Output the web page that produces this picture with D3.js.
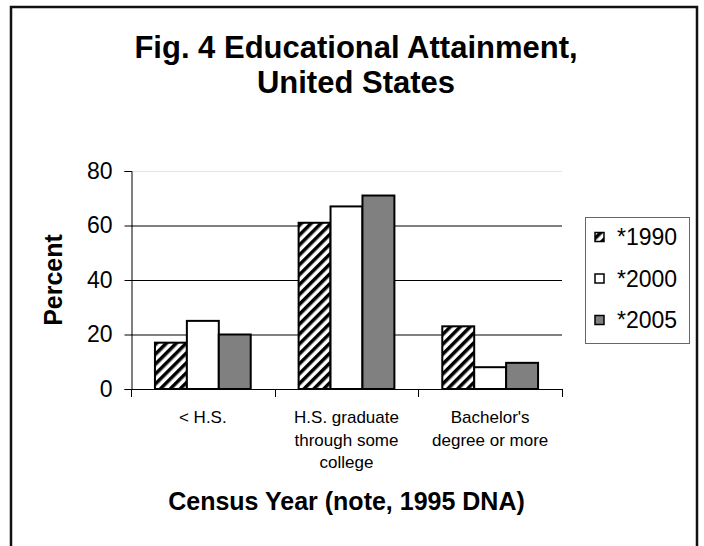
<!DOCTYPE html>
<html>
<head>
<meta charset="utf-8">
<script src="https://cdn.jsdelivr.net/npm/d3@7"></script>
<style>
  body { margin: 0; background: #fff; }
  svg { display: block; font-family: "Liberation Sans", Arial, sans-serif; }
</style>
</head>
<body>
<svg id="chart" width="704" height="546"></svg>
<script>
// data
var categories = [["< H.S."], ["H.S. graduate", "through some", "college"], ["Bachelor's", "degree or more"]];
var catKeys = ["lt_hs", "hs_some_college", "bachelors"];
var years = ["*1990", "*2000", "*2005"];
var values1990 = [17, 61, 23];
var values2000 = [25, 67, 8];
var values2005 = [20, 71, 9.6];
var yTicks = [0, 20, 40, 60, 80];

var series = [values1990, values2000, values2005];
var fills = ["url(#hatch)", "#ffffff", "#808080"];

// plot box
var plot = { left: 131, right: 562, top: 171, bottom: 389 };

var svg = d3.select("#chart");

// hatch pattern for 1990
var defs = svg.append("defs");
var pat = defs.append("pattern")
    .attr("id", "hatch")
    .attr("patternUnits", "userSpaceOnUse")
    .attr("width", 7).attr("height", 7)
    .attr("patternTransform", "rotate(45)");
pat.append("rect").attr("width", 7).attr("height", 7).attr("fill", "#fff");
pat.append("line").attr("x1", 1.75).attr("y1", 0).attr("x2", 1.75).attr("y2", 7)
    .attr("stroke", "#000").attr("stroke-width", 3.5);

// outer chart border (bottom edge is cut off)
svg.append("path")
    .attr("d", "M11,546V7H697V546")
    .attr("fill", "none").attr("stroke", "#111").attr("stroke-width", 2.5);

// title
var title = svg.append("text")
    .attr("text-anchor", "middle")
    .attr("font-weight", "bold")
    .attr("font-size", 31);
title.append("tspan").attr("x", 356).attr("y", 58).text("Fig. 4 Educational Attainment,");
title.append("tspan").attr("x", 356).attr("y", 93).text("United States");

// scales
var x0 = d3.scaleBand().domain(catKeys).range([plot.left, plot.right]);
var x1 = d3.scaleBand().domain(years).range([0, x0.bandwidth()]).paddingOuter(0.75);
var y = d3.scaleLinear().domain([0, 80]).range([plot.bottom, plot.top]);

// gridlines
svg.append("g").selectAll("line")
    .data(yTicks.filter(function(d) { return d > 0; }))
    .enter().append("line")
    .attr("x1", plot.left).attr("x2", plot.right)
    .attr("y1", function(d) { return y(d) + 0.5; })
    .attr("y2", function(d) { return y(d) + 0.5; })
    .attr("stroke", function(d) { return d === 80 ? "#e4e4e4" : "#000"; })
    .attr("stroke-width", 1);

// bars
var groups = svg.append("g").selectAll("g")
    .data(catKeys)
    .enter().append("g")
    .attr("transform", function(d) { return "translate(" + x0(d) + ",0)"; });

groups.selectAll("rect")
    .data(function(d, i) {
      return years.map(function(yr, j) { return { year: yr, value: series[j][i], fill: fills[j] }; });
    })
    .enter().append("rect")
    .attr("x", function(d) { return x1(d.year); })
    .attr("y", function(d) { return y(d.value); })
    .attr("width", x1.bandwidth())
    .attr("height", function(d) { return y(0) - y(d.value); })
    .attr("fill", function(d) { return d.fill; })
    .attr("stroke", "#000")
    .attr("stroke-width", 2);

// y axis
var yAxis = d3.axisLeft(y).tickValues(yTicks).tickSize(7).tickPadding(12);
var gy = svg.append("g")
    .attr("transform", "translate(" + (plot.left + 0.5) + ",0)")
    .call(yAxis);
gy.select(".domain").attr("stroke", "#000");
gy.selectAll(".tick line").attr("stroke", "#000");
gy.selectAll(".tick text")
    .attr("font-family", "'Liberation Sans', Arial, sans-serif")
    .attr("font-size", 23).attr("fill", "#000");

// x axis (line + boundary ticks)
svg.append("line")
    .attr("x1", plot.left).attr("x2", plot.right)
    .attr("y1", plot.bottom + 0.5).attr("y2", plot.bottom + 0.5)
    .attr("stroke", "#000");
var bounds = catKeys.map(function(k) { return x0(k); }).concat([plot.right]);
svg.append("g").selectAll("line")
    .data(bounds)
    .enter().append("line")
    .attr("x1", function(d) { return Math.round(d) + 0.5; })
    .attr("x2", function(d) { return Math.round(d) + 0.5; })
    .attr("y1", plot.bottom).attr("y2", plot.bottom + 8)
    .attr("stroke", "#000");

// category labels
var catLabels = svg.append("g").selectAll("text")
    .data(catKeys)
    .enter().append("text")
    .attr("text-anchor", "middle")
    .attr("font-size", 17)
    .attr("fill", "#000");
catLabels.each(function(k, i) {
  var t = d3.select(this);
  categories[i].forEach(function(line, j) {
    t.append("tspan")
        .attr("x", x0(k) + x0.bandwidth() / 2)
        .attr("y", 423 + j * 22.5)
        .text(line);
  });
});

// axis titles
svg.append("text")
    .attr("x", (plot.left + plot.right) / 2).attr("y", 510)
    .attr("text-anchor", "middle")
    .attr("font-weight", "bold").attr("font-size", 25)
    .text("Census Year (note, 1995 DNA)");
svg.append("text")
    .attr("transform", "translate(62,280) rotate(-90)")
    .attr("text-anchor", "middle")
    .attr("font-weight", "bold").attr("font-size", 25)
    .text("Percent");

// legend
var legend = svg.append("g");
legend.append("rect")
    .attr("x", 585.5).attr("y", 217.5).attr("width", 104).attr("height", 126)
    .attr("fill", "#fff").attr("stroke", "#666").attr("stroke-width", 1);
var items = legend.selectAll("g.item")
    .data(years)
    .enter().append("g")
    .attr("class", "item")
    .attr("transform", function(d, i) { return "translate(0," + (237 + i * 41.5) + ")"; });
items.append("rect")
    .attr("x", 595).attr("y", -4.5).attr("width", 9).attr("height", 9)
    .attr("fill", function(d, i) { return fills[i]; })
    .attr("stroke", "#000").attr("stroke-width", 1.5);
items.append("text")
    .attr("x", 617).attr("y", 8)
    .attr("font-size", 23)
    .text(function(d) { return d; });
</script>
</body>
</html>
